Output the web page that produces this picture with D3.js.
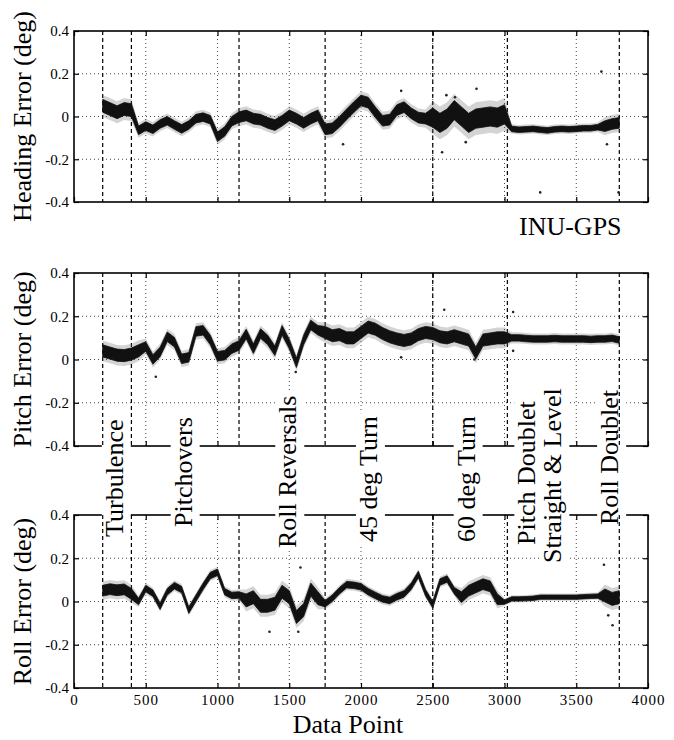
<!DOCTYPE html>
<html>
<head>
<meta charset="utf-8">
<script src="https://cdn.jsdelivr.net/npm/d3@7"></script>
<style>
  body { margin: 0; background: #fff; }
  svg { display: block; font-family: "Liberation Serif", "Times New Roman", serif; }
  svg text { font-family: "Liberation Serif", "Times New Roman", serif; }
</style>
</head>
<body>
<script>
// sample positions along the run (data point index), one reading every 50 points
let samplePoints = d3.range(200, 3850, 50);

// centre of the scatter cloud at each sample (deg)
let headingError = [
  0.05, 0.035, 0.02, 0.035, 0.03, -0.065, -0.045, -0.06, -0.035, -0.02,
  -0.04, -0.058, -0.04, -0.01, -0.003, -0.015, -0.095, -0.07, -0.022, -0.003,
  0.005, -0.01, -0.015, -0.03, -0.04, -0.02, 0.005, -0.01, -0.03, -0.01,
  0.005, -0.06, -0.055, -0.025, 0.01, 0.044, 0.075, 0.065, 0.02, -0.02,
  -0.015, 0.03, 0.044, 0.015, -0.005, -0.01, -0.005, -0.03, -0.01, 0.03,
  0.0, -0.03, -0.01, -0.005, 0.0, -0.005, 0.01, -0.058, -0.062, -0.06,
  -0.058, -0.062, -0.065, -0.06, -0.058, -0.06, -0.058, -0.055, -0.055, -0.05,
  -0.045, -0.035, -0.03
];
let pitchError = [
  0.04, 0.03, 0.02, 0.018, 0.025, 0.04, 0.06, 0.0, 0.035, 0.105,
  0.08, 0.003, 0.01, 0.13, 0.135, 0.09, 0.015, 0.02, 0.05, 0.065,
  0.118, 0.05, 0.12, 0.09, 0.04, 0.135, 0.072, -0.015, 0.09, 0.16,
  0.135, 0.125, 0.11, 0.115, 0.1, 0.1, 0.125, 0.15, 0.14, 0.12,
  0.105, 0.095, 0.088, 0.095, 0.115, 0.125, 0.12, 0.105, 0.1, 0.11,
  0.1, 0.09, 0.03, 0.09, 0.095, 0.1, 0.1, 0.1, 0.1, 0.097,
  0.095, 0.095, 0.095, 0.097, 0.095, 0.095, 0.095, 0.095, 0.093, 0.095,
  0.095, 0.098, 0.09
];
let rollError = [
  0.05, 0.057, 0.052, 0.056, 0.035, 0.0, 0.06, 0.038, -0.022, 0.045,
  0.073, 0.055, -0.04, 0.015, 0.07, 0.12, 0.135, 0.045, 0.028, 0.03,
  0.005, 0.02, -0.02, -0.02, -0.01, 0.045, 0.02, -0.072, -0.04, 0.055,
  0.015, -0.01, 0.015, 0.05, 0.078, 0.075, 0.068, 0.045, 0.028, 0.012,
  0.005, 0.022, 0.035, 0.07, 0.125, 0.04, -0.015, 0.09, 0.104, 0.05,
  0.02, 0.05, 0.065, 0.08, 0.07, 0.01, -0.003, 0.012, 0.012, 0.013,
  0.015, 0.02, 0.02, 0.02, 0.02, 0.02, 0.02, 0.022, 0.024, 0.025,
  0.028, 0.012, 0.02
];

// half-width of the cloud per stretch of the run: [from, to, deg]
let headingSpread = [[200, 400, 0.03], [450, 950, 0.02], [1000, 1100, 0.022], [1150, 2450, 0.025],
                     [2500, 3000, 0.045], [3050, 3650, 0.013], [3700, 3800, 0.025]];
let pitchSpread = [[200, 450, 0.028], [500, 1700, 0.022], [1750, 3000, 0.028], [3050, 3800, 0.015]];
let rollSpread = [[200, 400, 0.025], [450, 1150, 0.015], [1200, 1700, 0.03], [1750, 2650, 0.015],
                  [2700, 2950, 0.025], [3000, 3650, 0.01], [3700, 3800, 0.03]];

// stray points away from the cloud: [data point, deg]
let headingOutliers = [[2565, -0.167], [2730, -0.12], [1875, -0.13], [2280, 0.12], [2805, 0.13],
                       [3675, 0.21], [3249, -0.355], [3795, -0.355], [3714, -0.13], [2595, 0.1], [2655, 0.09]];
let pitchOutliers = [[1545, -0.058], [570, -0.08], [2790, 0.0], [2580, 0.23], [3060, 0.22],
                     [2280, 0.01], [3060, 0.04]];
let rollOutliers = [[1362, -0.14], [1563, -0.14], [3723, -0.064], [3753, -0.11], [3693, 0.17], [1578, 0.157]];

// manoeuvre boundaries and labels
let eventPoints = [200, 400, 1150, 1750, 2500, 3020, 3800];
let phaseLabels = ["Turbulence", "Pitchovers", "Roll Reversals", "45 deg Turn", "60 deg Turn",
                   "Pitch Doublet", "Straight & Level", "Roll Doublet"];
let phaseLabelAt = [340, 820, 1549, 2111, 2792, 3215, 3396, 3792];

let xTicks = [0, 500, 1000, 1500, 2000, 2500, 3000, 3500, 4000];
let yTicks = [-0.4, -0.2, 0, 0.2, 0.4];

let width = 674;
let height = 740;
let serif = "'Liberation Serif', 'Times New Roman', serif";

let svg = d3.select("body")
  .append("svg")
  .attr("width", width)
  .attr("height", height);

let x = d3.scaleLinear().domain([0, 4000]).range([74, 648]);

let panels = [
  {label: "Heading Error (deg)", values: headingError, spread: headingSpread, outliers: headingOutliers, top: 31, bottom: 202},
  {label: "Pitch Error (deg)", values: pitchError, spread: pitchSpread, outliers: pitchOutliers, top: 273, bottom: 446},
  {label: "Roll Error (deg)", values: rollError, spread: rollSpread, outliers: rollOutliers, top: 515, bottom: 688}
];

// layers, bottom to top
let gridLayer = svg.append("g");
let frameLayer = svg.append("g");
let knockLayer = svg.append("g");
let eventLayer = svg.append("g");
let dataLayer = svg.append("g");
let textLayer = svg.append("g");

let fmt = d => d === 0 ? "0" : d.toFixed(1);

panels.forEach(function(p, i) {
  let y = d3.scaleLinear().domain([-0.4, 0.4]).range([p.bottom, p.top]);

  // dotted grid
  gridLayer.selectAll(null)
    .data(xTicks.slice(1, -1))
    .enter()
    .append("line")
    .attr("x1", d => x(d)).attr("x2", d => x(d))
    .attr("y1", p.top).attr("y2", p.bottom)
    .attr("stroke", "#333").attr("stroke-width", 0.9)
    .attr("stroke-dasharray", "1,3");
  gridLayer.selectAll(null)
    .data(yTicks.slice(1, -1))
    .enter()
    .append("line")
    .attr("x1", x(0)).attr("x2", x(4000))
    .attr("y1", d => y(d)).attr("y2", d => y(d))
    .attr("stroke", "#333").attr("stroke-width", 0.9)
    .attr("stroke-dasharray", "1,3");

  // frame
  frameLayer.append("rect")
    .attr("x", x(0)).attr("y", p.top)
    .attr("width", x(4000) - x(0)).attr("height", p.bottom - p.top)
    .attr("fill", "none").attr("stroke", "#000").attr("stroke-width", 1.6);

  // axes with inward ticks
  let left = frameLayer.append("g")
    .attr("transform", `translate(${x(0)},0)`)
    .call(d3.axisLeft(y).tickValues(yTicks).tickFormat(fmt).tickSize(-5).tickPadding(5));
  frameLayer.append("g")
    .attr("transform", `translate(${x(4000)},0)`)
    .call(d3.axisRight(y).tickValues(yTicks).tickFormat("").tickSize(-5));
  frameLayer.append("g")
    .attr("transform", `translate(0,${p.top})`)
    .call(d3.axisTop(x).tickValues(xTicks).tickFormat("").tickSize(-5));
  let bottom = frameLayer.append("g")
    .attr("transform", `translate(0,${p.bottom})`)
    .call(d3.axisBottom(x).tickValues(xTicks).tickFormat(i === 2 ? d => d : "").tickSize(-5).tickPadding(6));

  frameLayer.selectAll(".domain").remove();
  frameLayer.selectAll(".tick line").attr("stroke", "#000").attr("stroke-width", 1.2);
  left.attr("font-family", serif).attr("font-size", 15);
  left.selectAll("text").style("font-family", serif).style("font-size", "15px");
  bottom.attr("font-family", serif).attr("font-size", 15);
  bottom.selectAll("text").style("font-family", serif).style("font-size", "15px").style("letter-spacing", "1px");

  // y axis title
  textLayer.append("text")
    .attr("transform", `translate(31,${(p.top + p.bottom) / 2}) rotate(-90)`)
    .attr("text-anchor", "middle")
    .style("font-size", "26px")
    .text(p.label);

  // manoeuvre boundaries
  eventLayer.selectAll(null)
    .data(eventPoints)
    .enter()
    .append("line")
    .attr("x1", d => x(d)).attr("x2", d => x(d))
    .attr("y1", p.top).attr("y2", p.bottom)
    .attr("stroke", "#000").attr("stroke-width", 1.2)
    .attr("stroke-dasharray", "4,3");

  // data cloud
  let rows = samplePoints.map(function(d, j) {
    let seg = p.spread.find(s => d >= s[0] && d <= s[1]);
    return {d: d, v: p.values[j], s: seg ? seg[2] : 0.02};
  });

  let halo = d3.area()
    .x(r => x(r.d))
    .y0(r => y(r.v - 1.7 * r.s))
    .y1(r => y(r.v + 1.7 * r.s));
  let core = d3.area()
    .x(r => x(r.d))
    .y0(r => y(r.v - r.s))
    .y1(r => y(r.v + r.s));

  dataLayer.append("path")
    .datum(rows)
    .attr("d", halo)
    .attr("fill", "#666").attr("fill-opacity", 0.28);
  dataLayer.append("path")
    .datum(rows)
    .attr("d", core)
    .attr("fill", "#111").attr("stroke", "#111").attr("stroke-width", 0.8);

  dataLayer.selectAll(null)
    .data(p.outliers)
    .enter()
    .append("circle")
    .attr("cx", d => x(d[0]))
    .attr("cy", d => y(d[1]))
    .attr("r", 1.3)
    .attr("fill", "#222");
});

// manoeuvre labels, written upward between the middle and bottom panels
let labelBottom = [537, 527, 548, 542, 542, 545, 563, 525];

phaseLabels.forEach(function(name, i) {
  let bx = x(phaseLabelAt[i]);
  let by = labelBottom[i];
  let t = textLayer.append("text")
    .attr("transform", `translate(${bx},${by}) rotate(-90)`)
    .style("font-size", "26px")
    .text(name);
  let len = t.node().getComputedTextLength();
  knockLayer.append("rect")
    .attr("x", bx - 21)
    .attr("y", by - len - 3)
    .attr("width", 29)
    .attr("height", len + 6)
    .attr("fill", "#fff");
});

textLayer.append("text")
  .attr("x", 519)
  .attr("y", 235)
  .style("font-size", "26px")
  .text("INU-GPS");

textLayer.append("text")
  .attr("x", 348)
  .attr("y", 733)
  .attr("text-anchor", "middle")
  .style("font-size", "26px")
  .text("Data Point");
</script>
</body>
</html>
